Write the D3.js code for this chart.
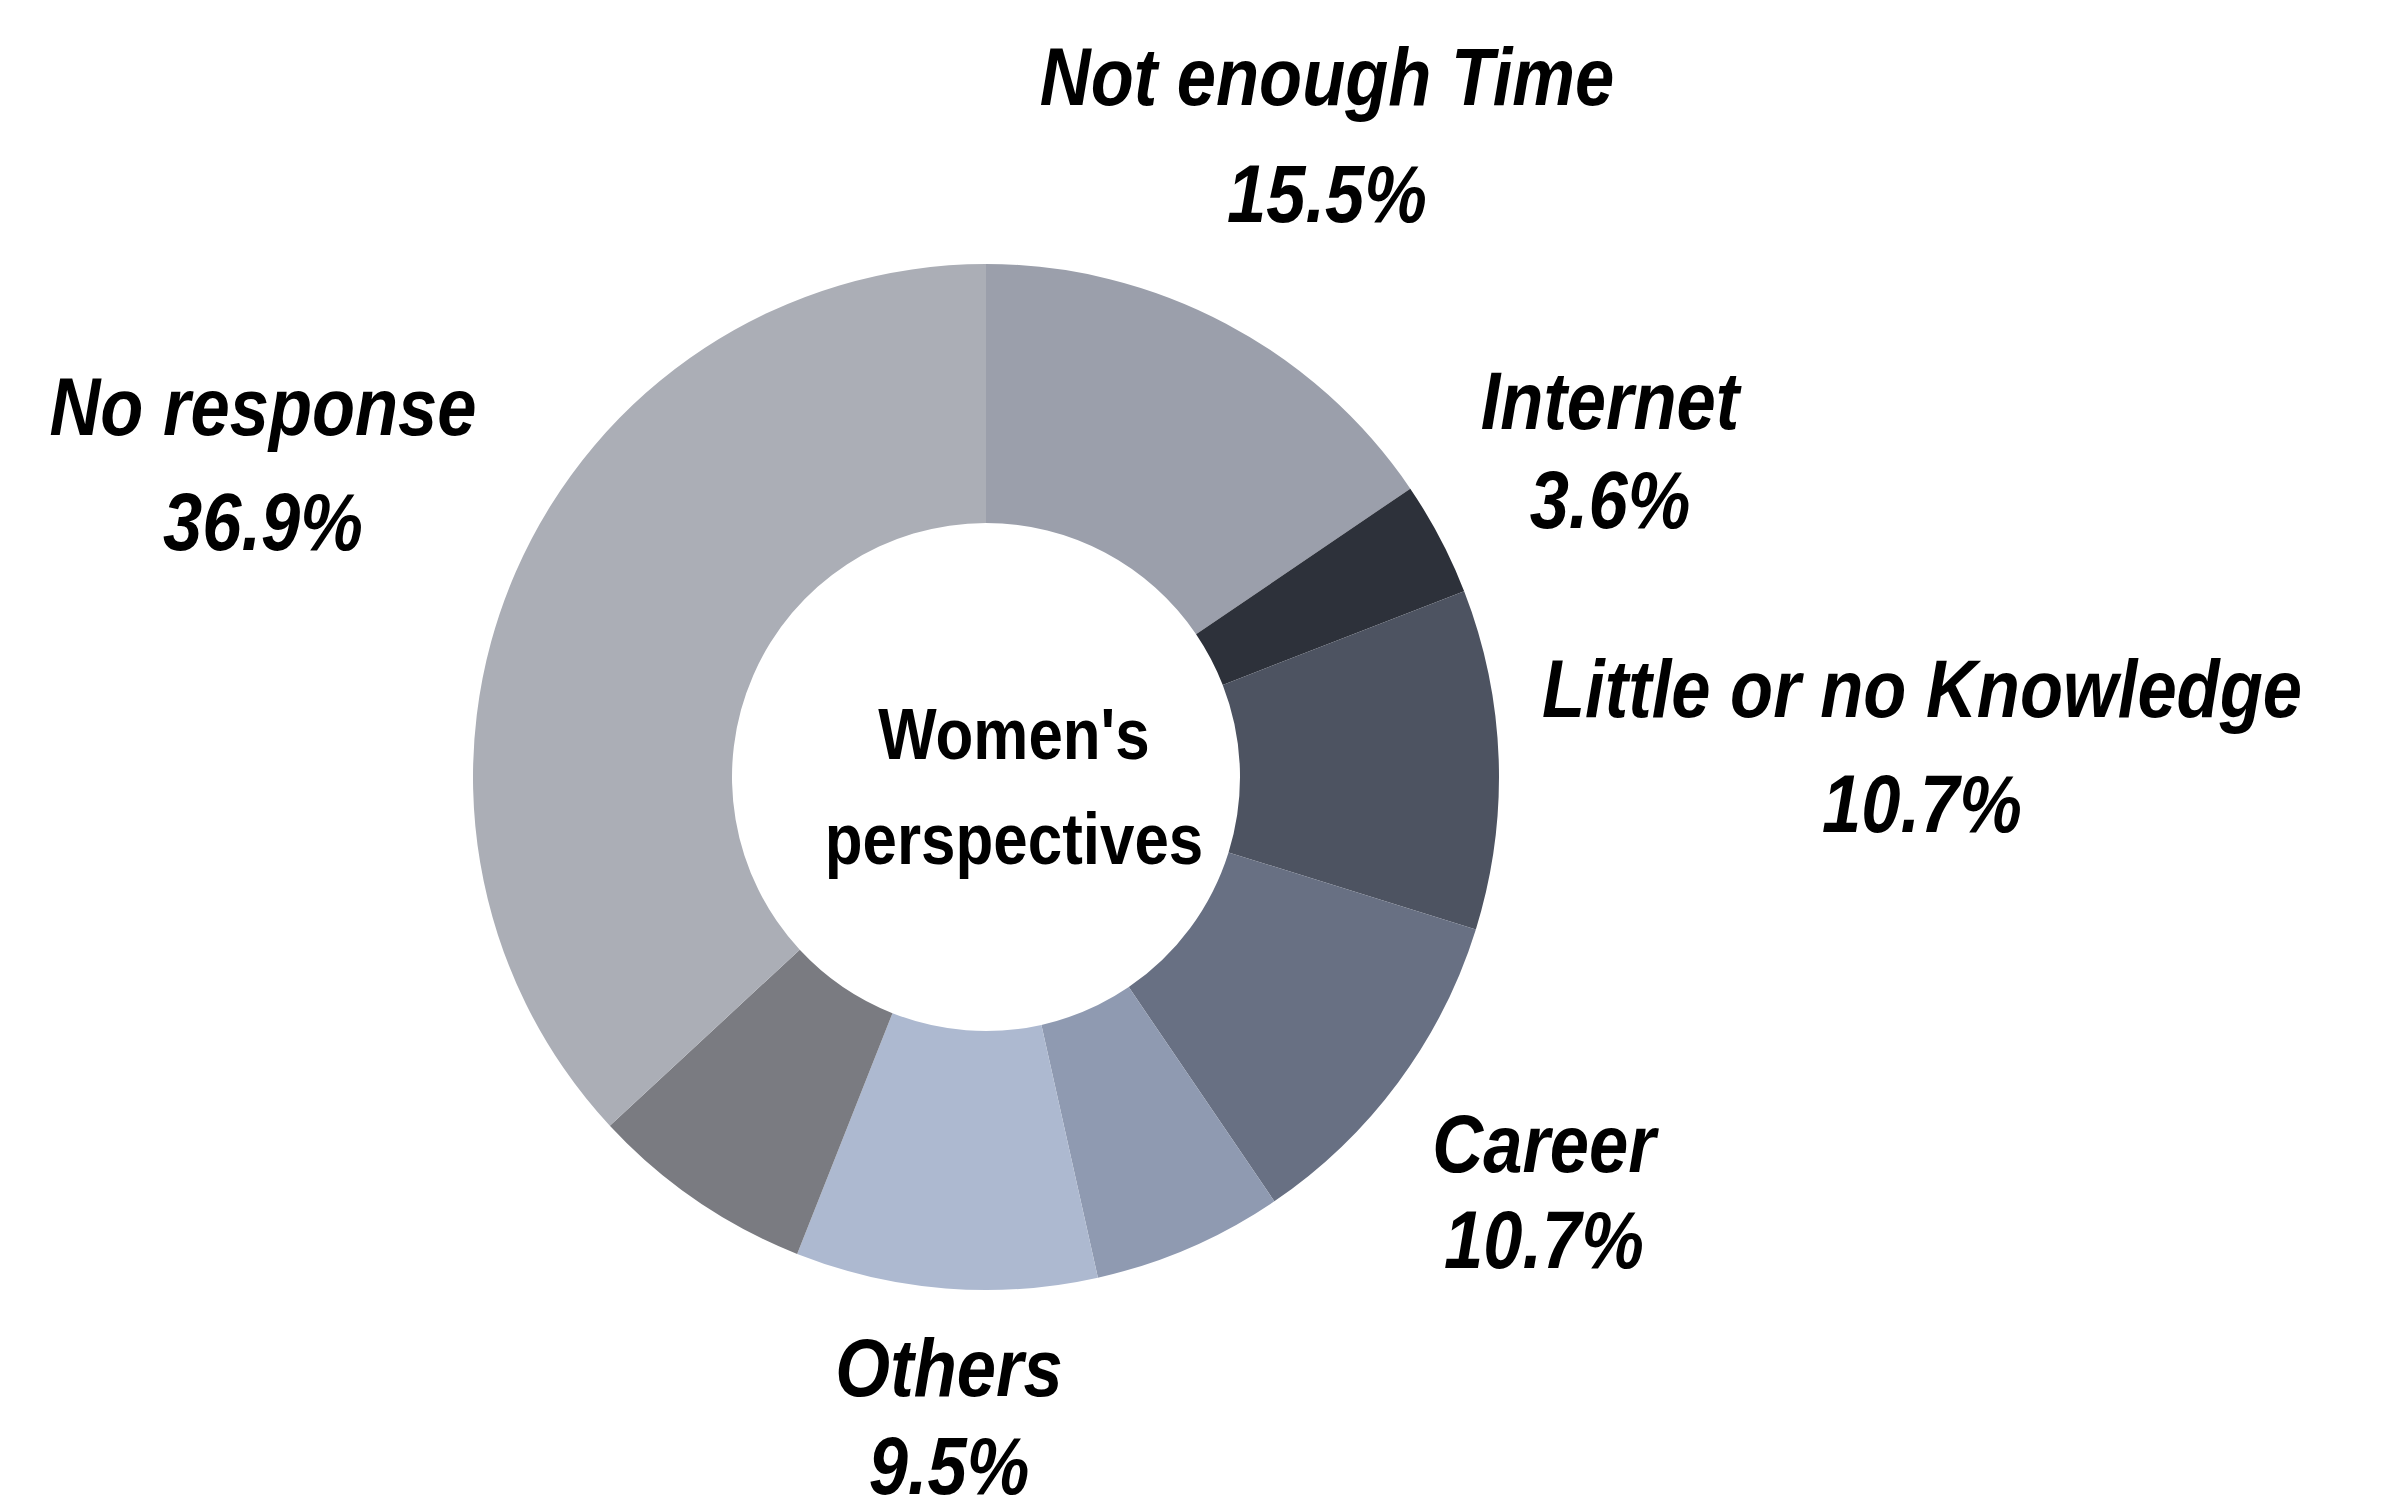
<!DOCTYPE html>
<html>
<head>
<meta charset="utf-8">
<script src="https://cdn.jsdelivr.net/npm/d3@7"></script>
<style>
  body { margin: 0; background: #fff; }
  .lbl { font-family: "Liberation Sans Narrow", "Liberation Sans", Arial, sans-serif; font-weight: bold; font-style: italic; font-size: 82px; fill: #000; }
  .center { font-family: "Liberation Sans Narrow", "Liberation Sans", Arial, sans-serif; font-weight: bold; font-size: 72px; fill: #000; }
</style>
</head>
<body>
<div id="chart"></div>
<script>
// slices clockwise from 12 o'clock
const categories = ["Not enough Time", "Internet", "Little or no Knowledge", "Career", "Unlabeled 1", "Others", "Unlabeled 2", "No response"];
const values = [15.5, 3.6, 10.7, 10.7, 6.0, 9.5, 7.1, 36.9];
const shownLabels = ["Not enough Time", "Internet", "Little or no Knowledge", "Career", null, "Others", null, "No response"];
const colors = ["#9b9fab", "#2d313a", "#4d5361", "#687083", "#8f9ab1", "#adb9d0", "#7a7b81", "#abaeb6"];
const centerTitle = ["Women's", "perspectives"];

const width = 2381;
const height = 1503;

const cx = 986, cy = 777;
const outerR = 513, innerR = 254;
const squeeze = 0.86;   // narrow face isn't installed, so squash the regular one

// where each label block sits: x centre, baseline of name, baseline of value
const labelPos = {
    "Not enough Time":        { x: 1327, y1: 105,  y2: 222 },
    "Internet":               { x: 1610, y1: 429,  y2: 528 },
    "Little or no Knowledge": { x: 1922, y1: 717,  y2: 832 },
    "Career":                 { x: 1544, y1: 1172, y2: 1268 },
    "Others":                 { x: 949,  y1: 1396, y2: 1494 },
    "No response":            { x: 263,  y1: 435,  y2: 550 }
};

const svg = d3.select("#chart")
    .append("svg")
    .attr("width", width)
    .attr("height", height);

const data = categories.map(function(c, i) {
    return { name: c, value: values[i], label: shownLabels[i], color: colors[i] };
});

const pie = d3.pie()
    .sort(null)
    .value(function(d) { return d.value; });

const arc = d3.arc()
    .innerRadius(innerR)
    .outerRadius(outerR);

const g = svg.append("g")
    .attr("transform", `translate(${cx},${cy})`);

g.selectAll("path")
    .data(pie(data))
    .enter()
    .append("path")
        .attr("d", arc)
        .attr("fill", function(d) { return d.data.color; });

const fmt = d3.format(".1f");

const labelled = data.filter(function(d) { return d.label; });

svg.selectAll("text.name")
    .data(labelled)
    .enter()
    .append("text")
        .attr("class", "lbl name")
        .attr("text-anchor", "middle")
        .attr("transform", function(d) {
            const p = labelPos[d.label];
            return `translate(${p.x},${p.y1}) scale(${squeeze},1)`;
        })
        .text(function(d) { return d.label; });

svg.selectAll("text.pct")
    .data(labelled)
    .enter()
    .append("text")
        .attr("class", "lbl pct")
        .attr("text-anchor", "middle")
        .attr("transform", function(d) {
            const p = labelPos[d.label];
            return `translate(${p.x},${p.y2}) scale(${squeeze},1)`;
        })
        .text(function(d) { return fmt(d.value) + "%"; });

svg.selectAll("text.center")
    .data(centerTitle)
    .enter()
    .append("text")
        .attr("class", "center")
        .attr("text-anchor", "middle")
        .attr("transform", function(d, i) {
            return `translate(1014,${759 + i * 105}) scale(${squeeze},1)`;
        })
        .text(function(d) { return d; });
</script>
</body>
</html>
